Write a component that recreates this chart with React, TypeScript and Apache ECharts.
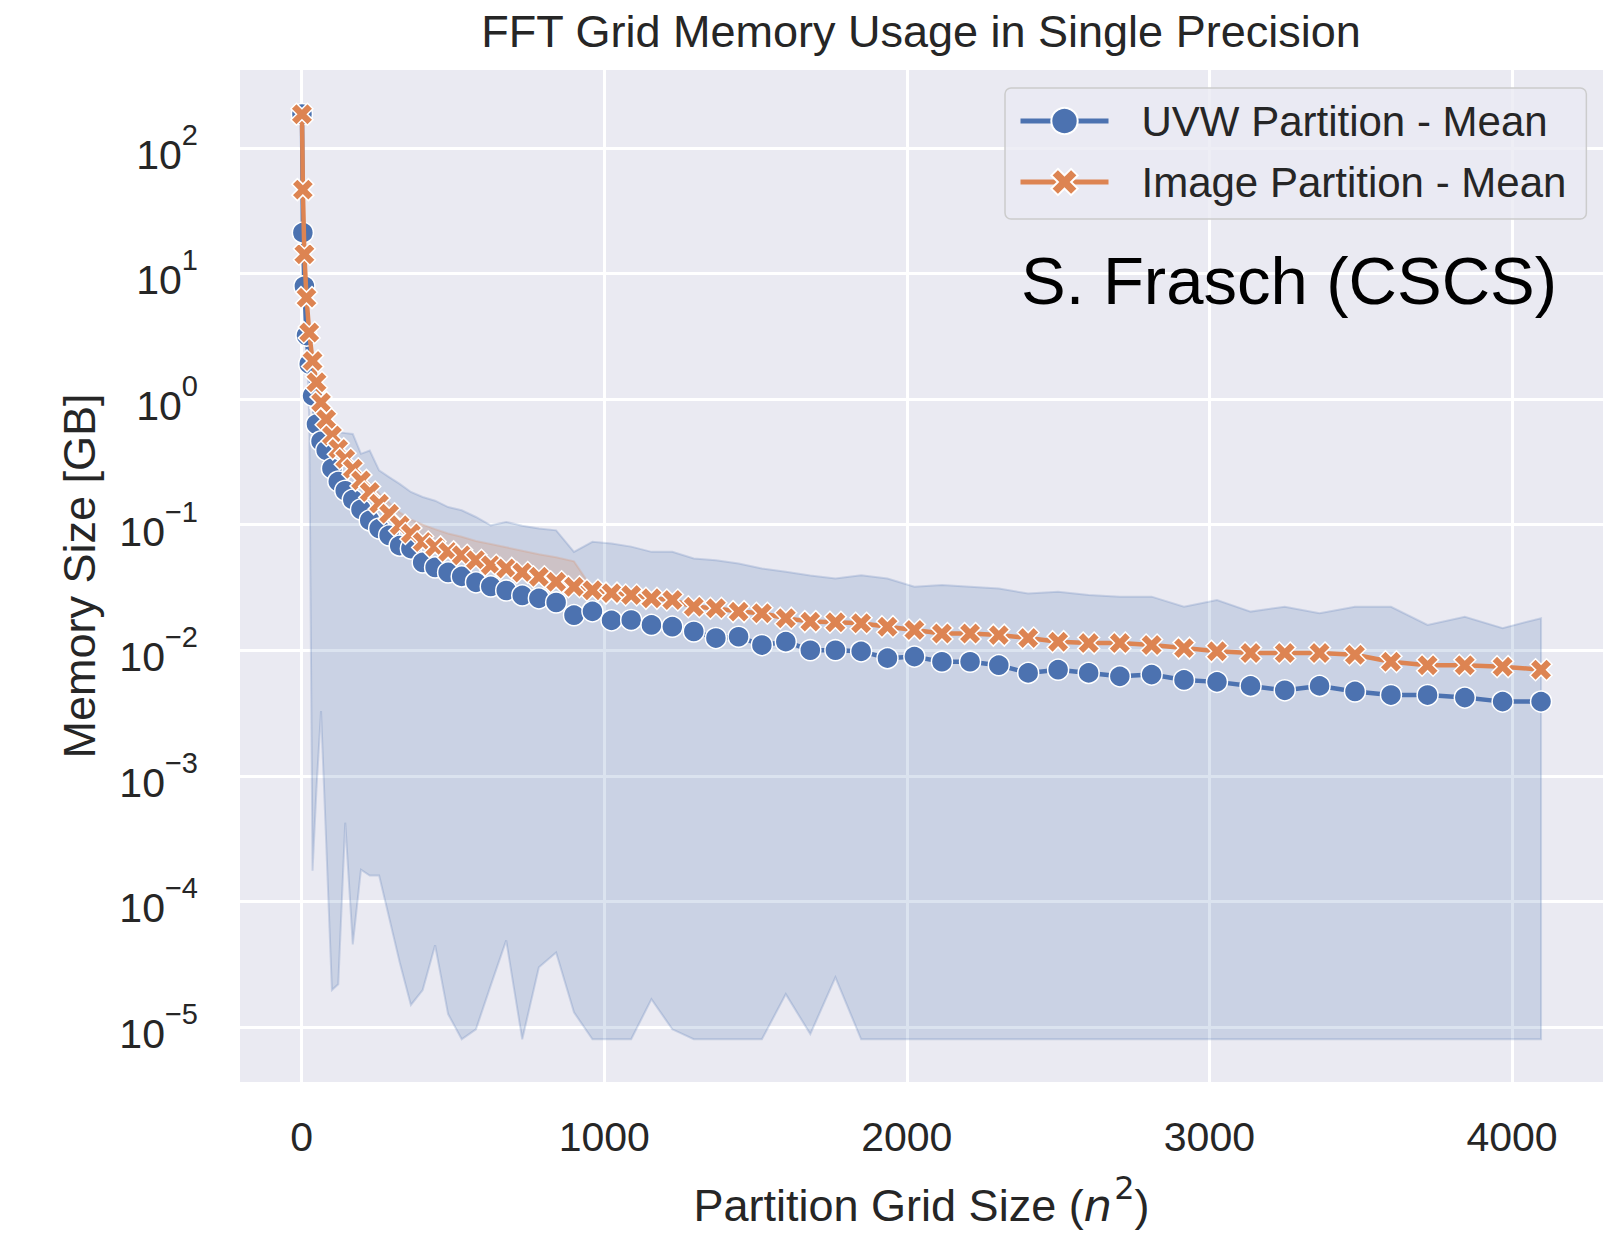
import { useEffect, useRef } from "react";
import * as echarts from "echarts";

// Partition grid size n^2 for n = 1..64
const gridSizes = [
  1, 4, 9, 16, 25, 36, 49, 64, 81, 100, 121, 144, 169, 196, 225, 256, 289, 324, 361, 400,
  441, 484, 529, 576, 625, 676, 729, 784, 841, 900, 961, 1024, 1089, 1156, 1225, 1296, 1369,
  1444, 1521, 1600, 1681, 1764, 1849, 1936, 2025, 2116, 2209, 2304, 2401, 2500, 2601, 2704,
  2809, 2916, 3025, 3136, 3249, 3364, 3481, 3600, 3721, 3844, 3969, 4096,
];

const uvwMean = [
  185, 21.1, 7.9, 3.2, 1.9, 1.06, 0.63, 0.46, 0.39, 0.28, 0.22, 0.186, 0.158, 0.132, 0.108,
  0.093, 0.082, 0.068, 0.0645, 0.05, 0.0456, 0.0416, 0.0387, 0.0347, 0.0322, 0.0299, 0.0273,
  0.0259, 0.024, 0.019, 0.0204, 0.0173, 0.0174, 0.0159, 0.0154, 0.0141, 0.0125, 0.0128, 0.011,
  0.0117, 0.01, 0.01, 0.0098, 0.00865, 0.0089, 0.0081, 0.0081, 0.0076, 0.0066, 0.007, 0.0066,
  0.0062, 0.0064, 0.0058, 0.0056, 0.0052, 0.0048, 0.0052, 0.0047, 0.0044, 0.0044, 0.0042,
  0.0039, 0.0039,
];

const uvwUpper = [
  185, 21.1, 7.9, 3.2, 0.75, 0.7, 0.65, 0.6, 0.58, 0.56, 0.543, 0.535, 0.527, 0.366, 0.389,
  0.27, 0.239, 0.211, 0.182, 0.166, 0.155, 0.138, 0.13, 0.115, 0.0987, 0.105, 0.098, 0.093,
  0.09, 0.0607, 0.073, 0.0706, 0.0668, 0.0607, 0.0607, 0.0537, 0.0521, 0.049, 0.0448, 0.0421,
  0.0394, 0.0373, 0.0396, 0.0373, 0.032, 0.033, 0.032, 0.031, 0.0283, 0.0292, 0.0275, 0.0267,
  0.0267, 0.0222, 0.0251, 0.0203, 0.0222, 0.0197, 0.0222, 0.0222, 0.0159, 0.0185, 0.015,
  0.018,
];

const uvwLower = [
  185, 21.1, 7.9, 3.2, 0.7, 1.76e-4, 7.9e-4, 3.28e-3, 3.0e-4, 1.97e-5, 2.19e-5, 4.24e-4,
  4.56e-5, 1.79e-4, 1.61e-4, 1.61e-4, 7.46e-5, 3.28e-5, 1.5e-5, 1.97e-5, 4.48e-5, 1.27e-5,
  8.0e-6, 9.6e-6, 2.15e-5, 4.9e-5, 8.0e-6, 2.99e-5, 3.93e-5, 1.31e-5, 8.0e-6, 8.0e-6, 8.0e-6,
  1.67e-5, 9.6e-6, 8.0e-6, 8.0e-6, 8.0e-6, 8.0e-6, 1.83e-5, 8.8e-6, 2.49e-5, 8.0e-6, 8.0e-6,
  8.0e-6, 8.0e-6, 8.0e-6, 8.0e-6, 8.0e-6, 8.0e-6, 8.0e-6, 8.0e-6, 8.0e-6, 8.0e-6, 8.0e-6,
  8.0e-6, 8.0e-6, 8.0e-6, 8.0e-6, 8.0e-6, 8.0e-6, 8.0e-6, 8.0e-6, 8.0e-6,
];

const imageMean = [
  185, 46.4, 14.2, 6.41, 3.38, 2.01, 1.36, 0.94, 0.69, 0.512, 0.401, 0.334, 0.278, 0.225,
  0.182, 0.147, 0.122, 0.0987, 0.0849, 0.0728, 0.0665, 0.0607, 0.057, 0.052, 0.0475, 0.0448,
  0.0416, 0.0385, 0.0351, 0.032, 0.03, 0.0285, 0.0275, 0.0259, 0.0251, 0.0222, 0.0216, 0.0203,
  0.0197, 0.018, 0.0169, 0.0167, 0.0164, 0.0154, 0.0145, 0.0136, 0.0136, 0.0132, 0.0125,
  0.0117, 0.0114, 0.0114, 0.011, 0.0104, 0.0098, 0.0095, 0.0095, 0.0095, 0.0092, 0.0081,
  0.0076, 0.0076, 0.0074, 0.007,
];

const imageUpper = [
  185, 46.4, 14.2, 6.41, 3.38, 2.01, 1.36, 0.94, 0.69, 0.55, 0.44, 0.37, 0.31, 0.26, 0.215,
  0.178, 0.15, 0.125, 0.11, 0.1, 0.092, 0.085, 0.08, 0.074, 0.07, 0.066, 0.062, 0.058, 0.055,
  0.051, 0.031, 0.0285, 0.0275, 0.0259, 0.0251, 0.0222, 0.0216, 0.0203, 0.0197, 0.018, 0.0169,
  0.0167, 0.0164, 0.0154, 0.0145, 0.0136, 0.0136, 0.0132, 0.0125, 0.0117, 0.0114, 0.0114,
  0.011, 0.0104, 0.0098, 0.0095, 0.0095, 0.0095, 0.0092, 0.0081, 0.0076, 0.0076, 0.0074, 0.007,
];

const seriesNames = ["UVW Partition - Mean", "Image Partition - Mean"];
const xTickStep = 1000;

const FONT = "'Liberation Sans', Arial, Helvetica, sans-serif";
const TEXT = "#262626";
const BLUE = "#4c72b0";
const ORANGE = "#dd8452";
const XMARK = "path://M1,0 L2,1 L3,0 L4,1 L3,2 L4,3 L3,4 L2,3 L1,4 L0,3 L1,2 L0,1 Z";

function bandSeries(upper: number[], lower: number[], fill: string, stroke: string) {
  return {
    type: "custom",
    silent: true,
    z: 1,
    data: gridSizes.map((x, i) => [x, upper[i], lower[i]]),
    encode: { x: 0, y: 1 },
    renderItem: (params: any, api: any) => {
      if (params.dataIndex !== 0) return null;
      const top: number[][] = [];
      const bottom: number[][] = [];
      for (let i = 0; i < gridSizes.length; i++) {
        top.push(api.coord([gridSizes[i], upper[i]]));
        bottom.push(api.coord([gridSizes[i], lower[i]]));
      }
      return {
        type: "polygon",
        shape: { points: top.concat(bottom.reverse()) },
        style: { fill, stroke, lineWidth: 2 },
      };
    },
  };
}

export default function App() {
  const ref = useRef<HTMLDivElement>(null);
  useEffect(() => {
    if (!ref.current) return;
    const chart = echarts.init(ref.current, undefined, { renderer: "svg" });
    const option: any = {
      animation: false,
      backgroundColor: "#ffffff",
      grid: {
        left: 240,
        right: 10,
        top: 70,
        bottom: 148,
        show: true,
        backgroundColor: "#eaeaf2",
        borderWidth: 0,
      },
      graphic: [
        {
          type: "text",
          x: 921,
          y: 31,
          style: {
            text: "FFT Grid Memory Usage in Single Precision",
            fontSize: 45,
            fontFamily: FONT,
            fill: TEXT,
            align: "center",
            verticalAlign: "middle",
            textAlign: "center",
            textVerticalAlign: "middle",
          },
        },
        {
          type: "text",
          x: 1021,
          y: 280,
          z: 100,
          style: {
            text: "S. Frasch (CSCS)",
            fontSize: 67,
            fontFamily: FONT,
            fill: "#000000",
            align: "left",
            verticalAlign: "middle",
            textAlign: "left",
            textVerticalAlign: "middle",
          },
        },
      ],
      legend: {
        data: [
          { name: seriesNames[0], lineStyle: { width: 5, color: BLUE } },
          { name: seriesNames[1], lineStyle: { width: 5, color: ORANGE } },
        ],
        orient: "vertical",
        left: 1005,
        top: 88,
        padding: [12, 20, 16, 13],
        itemGap: 19,
        itemWidth: 88,
        itemHeight: 33,
        lineStyle: { width: 5 },
        backgroundColor: "rgba(234,234,242,0.8)",
        borderColor: "#cccccc",
        borderWidth: 1.5,
        borderRadius: 6,
        textStyle: {
          fontSize: 42,
          color: TEXT,
          fontFamily: FONT,
          padding: [0, 0, 0, 28],
        },
      },
      xAxis: {
        type: "value",
        min: -203.75,
        max: 4300.75,
        axisLine: { show: false },
        axisTick: { show: false },
        splitLine: {
          show: true,
          showMinLine: false,
          showMaxLine: false,
          lineStyle: { color: "#ffffff", width: 3 },
        },
        axisLabel: {
          fontSize: 41,
          color: TEXT,
          fontFamily: FONT,
          margin: 34,
          showMinLabel: false,
          showMaxLabel: false,
          formatter: (v: number) => (v % xTickStep === 0 ? String(v) : ""),
        },
        name: "{a|Partition Grid Size (}{i|n}{s|2}{a|)}",
        nameLocation: "middle",
        nameGap: 90,
        nameTextStyle: {
          fontSize: 45,
          color: TEXT,
          fontFamily: FONT,
          rich: {
            a: { fontSize: 45, color: TEXT, fontFamily: FONT, verticalAlign: "bottom" },
            i: {
              fontSize: 45,
              color: TEXT,
              fontFamily: "'DejaVu Sans', sans-serif",
              fontStyle: "italic",
              verticalAlign: "bottom",
            },
            s: {
              fontSize: 32,
              color: TEXT,
              fontFamily: "'DejaVu Sans', sans-serif",
              padding: [0, 0, 24, 2],
              verticalAlign: "bottom",
            },
          },
        },
      },
      yAxis: {
        type: "log",
        logBase: 10,
        min: Math.pow(10, -5.437),
        max: Math.pow(10, 2.619),
        axisLine: { show: false },
        axisTick: { show: false },
        minorTick: { show: false },
        minorSplitLine: { show: false },
        splitLine: {
          show: true,
          showMinLine: false,
          showMaxLine: false,
          lineStyle: { color: "#ffffff", width: 3 },
        },
        axisLabel: {
          margin: 42,
          showMinLabel: false,
          showMaxLabel: false,
          formatter: (v: number) => {
            const e = Math.log10(v);
            const r = Math.round(e);
            if (Math.abs(e - r) > 1e-6) return "";
            const exp = r < 0 ? "\u2212" + String(-r) : String(r);
            return "{b|10}{s|" + exp + "}";
          },
          rich: {
            b: { fontSize: 41, color: TEXT, fontFamily: FONT, verticalAlign: "bottom" },
            s: {
              fontSize: 29,
              color: TEXT,
              fontFamily: FONT,
              padding: [0, 0, 26, 0],
              verticalAlign: "bottom",
            },
          },
        },
        name: "Memory Size [GB]",
        nameLocation: "middle",
        nameGap: 138,
        nameTextStyle: { fontSize: 45, color: TEXT, fontFamily: FONT },
      },
      series: [
        bandSeries(uvwUpper, uvwLower, "rgba(76,114,176,0.2)", "rgba(76,114,176,0.22)"),
        bandSeries(imageUpper, imageMean, "rgba(221,132,82,0.2)", "rgba(221,132,82,0.2)"),
        {
          type: "line",
          name: seriesNames[0],
          z: 3,
          data: gridSizes.map((x, i) => [x, uvwMean[i]]),
          symbol: "circle",
          symbolSize: 21,
          showSymbol: true,
          showAllSymbol: true,
          itemStyle: { color: BLUE, borderColor: "#ffffff", borderWidth: 1.5 },
          lineStyle: { color: BLUE, width: 4.5 },
        },
        {
          type: "line",
          name: seriesNames[1],
          z: 4,
          data: gridSizes.map((x, i) => [x, imageMean[i]]),
          symbol: XMARK,
          symbolSize: 22,
          showSymbol: true,
          showAllSymbol: true,
          itemStyle: { color: ORANGE, borderColor: "#ffffff", borderWidth: 1.5 },
          lineStyle: { color: ORANGE, width: 4.5 },
        },
      ],
    };
    chart.setOption(option);
    return () => chart.dispose();
  }, []);
  return (
    <div
      ref={ref}
      style={{ position: "fixed", left: 0, top: 0, width: 1613, height: 1233 }}
    />
  );
}
